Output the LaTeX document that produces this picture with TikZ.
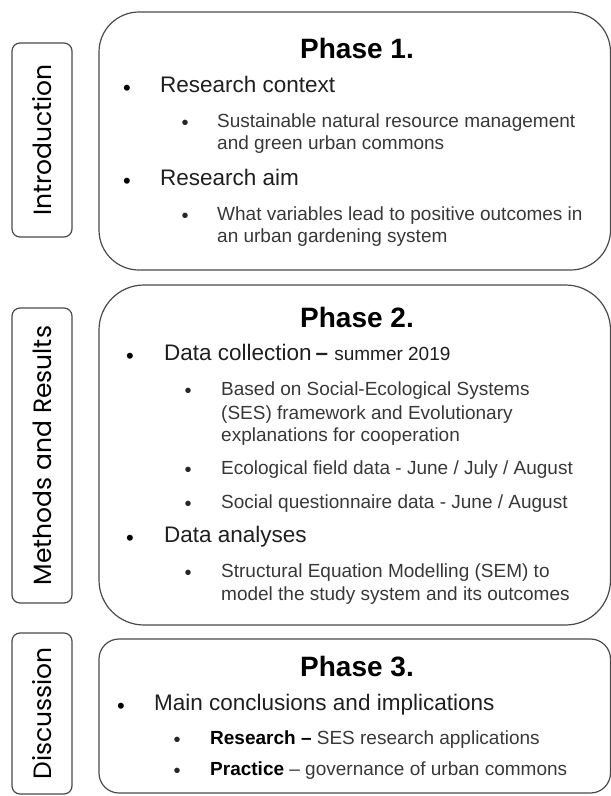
\documentclass[tikz,border=0pt]{standalone}
\usepackage{fontspec}
\setmainfont{Liberation Sans}
\newfontfamily\labelfont{Poppins}
\definecolor{boxline}{HTML}{4A4A4A}
\definecolor{subtext}{HTML}{383838}
\tikzset{
  phasebox/.style={draw=boxline, line width=1.2pt, minimum width=511.5, inner sep=0},
  sectionbox/.style={draw=boxline, line width=1.2pt, rounded corners=8, rotate=90, minimum height=60, inner sep=0, font=\labelfont\fontsize{25}{25}\selectfont},
  phasetitle/.style={font=\bfseries\fontsize{28}{28}\selectfont},
  dotone/.style={inner sep=0, font=\fontsize{22}{22}\selectfont},
  dottwo/.style={inner sep=0, font=\fontsize{20}{20}\selectfont, text=black!85},
  itemone/.style={anchor=mid west, inner sep=0, font=\fontsize{22.5}{22.5}\selectfont, text=black!88},
  itemtwo/.style={anchor=mid west, inner sep=0, font=\fontsize{19}{19}\selectfont, text=subtext},
}
\begin{document}
\begin{tikzpicture}[x=1pt, y=-1pt]
        \useasboundingbox (0,0) rectangle (611,796);
        \node[sectionbox, minimum width=194] (intro) at (42,140) {Introduction};
        \node[sectionbox, minimum width=295] (methods) at (42,455.5) {Methods and Results};
        \node[sectionbox, minimum width=161] (disc) at (42,713.5) {Discussion};

        \node[phasebox, minimum height=258, rounded corners=40] (ph1) at (354.75,141) {};
        \node[phasebox, minimum height=340, rounded corners=45] (ph2) at (354.75,455) {};
        \node[phasebox, minimum height=154, rounded corners=20] (ph3) at (354.75,716) {};

        \node[phasetitle] (t1) at (357,48) {Phase 1.};
        \node[dotone] (b1a) at (127,90) {•};
        \node[itemone] (i1a) at (160,90) {Research context};
        \node[dottwo] (b1b) at (185,125) {•};
        \node[itemtwo] (i1b) at (217,125) {Sustainable natural resource management};
        \node[itemtwo] (i1c) at (217,147) {and green urban commons};
        \node[dotone] (b1d) at (127,183) {•};
        \node[itemone] (i1d) at (160,183) {Research aim};
        \node[dottwo] (b1e) at (185,218) {•};
        \node[itemtwo] (i1e) at (217,218) {What variables lead to positive outcomes in};
        \node[itemtwo] (i1f) at (217,240) {an urban gardening system};

        \node[phasetitle] (t2) at (357,317) {Phase 2.};
        \node[dotone] (b2a) at (130,358) {•};
        \node[itemone] (i2a) at (164,358) {Data collection\,{\bfseries–} {\fontsize{19}{19}\selectfont summer 2019}};
        \node[dottwo] (b2b) at (188,393) {•};
        \node[itemtwo] (i2b) at (221,393) {Based on Social-Ecological Systems};
        \node[itemtwo] (i2c) at (221,417) {(SES) framework and Evolutionary};
        \node[itemtwo] (i2d) at (221,439) {explanations for cooperation};
        \node[dottwo] (b2e) at (188,472) {•};
        \node[itemtwo] (i2e) at (221,472) {Ecological field data - June / July / August};
        \node[dottwo] (b2f) at (188,506) {•};
        \node[itemtwo] (i2f) at (221,506) {Social questionnaire data - June / August};
        \node[dotone] (b2g) at (130,540) {•};
        \node[itemone] (i2g) at (164,540) {Data analyses};
        \node[dottwo] (b2h) at (188,575) {•};
        \node[itemtwo] (i2h) at (221,575) {Structural Equation Modelling (SEM) to};
        \node[itemtwo] (i2i) at (221,598) {model the study system and its outcomes};

        \node[phasetitle] (t3) at (357,667) {Phase 3.};
        \node[dotone] (b3a) at (121,708) {•};
        \node[itemone] (i3a) at (154,708) {Main conclusions and implications};
        \node[dottwo] (b3b) at (177,742) {•};
        \node[itemtwo] (i3b) at (210,742) {{\bfseries\color{black}Research –} SES research applications};
        \node[dottwo] (b3c) at (177,773) {•};
        \node[itemtwo] (i3c) at (210,773) {{\bfseries\color{black}Practice} – governance of urban commons};
    \end{tikzpicture}
\end{document}
